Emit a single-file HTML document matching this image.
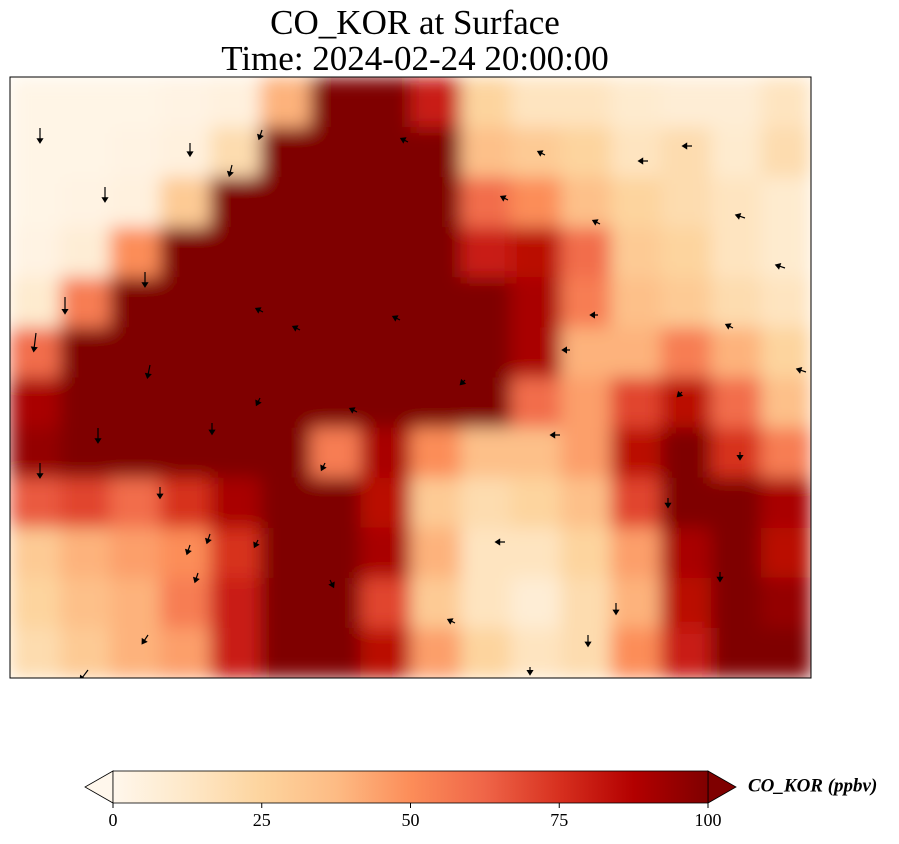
<!DOCTYPE html>
<html><head><meta charset="utf-8"><style>
body{margin:0;background:#fff;width:899px;height:839px;overflow:hidden;font-family:"Liberation Serif",serif}
</style></head><body>
<svg id="chart" width="899" height="839">
<defs>
<linearGradient id="cmap" x1="0" x2="1" y1="0" y2="0">
<stop offset="0" stop-color="#fff7ec"/><stop offset="0.125" stop-color="#fee8c8"/>
<stop offset="0.25" stop-color="#fdd49e"/><stop offset="0.375" stop-color="#fdbb84"/>
<stop offset="0.5" stop-color="#fc8d59"/><stop offset="0.625" stop-color="#ef6548"/>
<stop offset="0.75" stop-color="#d7301f"/><stop offset="0.875" stop-color="#b30000"/>
<stop offset="1" stop-color="#7f0000"/></linearGradient>
<clipPath id="mapclip"><rect x="10" y="77" width="801" height="601"/></clipPath>
<filter id="soft" x="-5%" y="-5%" width="110%" height="110%"><feGaussianBlur stdDeviation="9" edgeMode="duplicate"/></filter>
</defs>
<text x="415" y="34" font-size="35" text-anchor="middle">CO_KOR at Surface</text>
<text x="415" y="70" font-size="35" text-anchor="middle">Time: 2024-02-24 20:00:00</text>
<g clip-path="url(#mapclip)"><g id="cells" filter="url(#soft)"></g></g>
<g id="arrows" clip-path="url(#mapclip)"></g>
<rect x="10" y="77" width="801" height="601" fill="none" stroke="#000" stroke-width="1"/>
<g>
<polygon points="113,771 85,787 113,803" fill="#fff7ec" stroke="#000" stroke-width="0.8"/>
<polygon points="708,771 736,787 708,803" fill="#7f0000" stroke="#000" stroke-width="0.8"/>
<rect x="113" y="771" width="595" height="32" fill="url(#cmap)" stroke="#000" stroke-width="0.8"/>
<g id="cbticks"></g>
<text x="748" y="787" font-size="19" font-style="italic" font-weight="bold" dominant-baseline="middle">CO_KOR (ppbv)</text>
</g>
</svg>
<script>
const rowsY = [0,1,2,3,4,5,6,7,8,9,10,11];
const colsX = [0,1,2,3,4,5,6,7,8,9,10,11,12,13,14,15];
const gridValues = [
[2,2,2,3,5,40,100,100,80,25,15,15,10,8,8,15],
[2,2,3,5,20,100,100,100,100,35,30,25,15,20,10,20],
[2,3,5,30,100,100,100,100,100,60,50,35,25,20,15,10],
[3,8,50,100,100,100,100,100,100,80,85,60,30,25,15,10],
[10,55,100,100,100,100,100,100,100,100,90,55,35,30,20,15],
[60,100,100,100,100,100,100,100,100,100,90,40,40,55,40,25],
[90,100,100,100,100,100,100,100,100,100,60,45,70,85,60,35],
[95,100,100,100,100,100,55,90,50,35,35,45,85,100,75,55],
[65,70,60,75,90,100,100,85,30,20,25,35,70,100,100,90],
[30,40,45,50,75,100,100,90,40,15,15,25,45,90,100,85],
[25,35,40,55,80,100,100,70,30,15,8,20,40,85,100,95],
[20,30,40,45,80,100,100,85,45,25,15,20,50,80,100,100]];
const tickValues = [0,25,50,75,100];
const windX = [40,105,190,232,262,145,65,36,150,212,260,98,40,160,210,258,190,198,148,88,408,545,600,648,692,745,785,733,806,598,570,682,740,668,720,616,588,530,455,505,560,508,465,357,325,400,263,300,330];
const windY = [128,187,143,165,130,272,297,333,365,423,398,428,463,487,534,540,545,573,635,670,142,155,224,161,146,218,268,328,372,315,350,392,452,498,572,603,635,667,623,542,435,200,380,412,463,320,312,330,580];
const windU = [0,0,0,-1,-1,0,0,-1,-1,0,-1,0,0,0,-1,-1,-1,-1,-2,-3,-2,-2,-2,-3,-3,-3,-3,-2,-3,-2,-2,-1,0,0,0,0,0,0,-2,-3,-3,-2,-1,-2,-1,-2,-2,-2,1];
const windV = [6,6,5,4,3,6,7,8,5,4,2,6,6,4,3,2,3,3,3,4,-1,-1,-1,0,0,-1,-1,-1,-1,0,0,1,2,3,3,4,4,2,-1,0,0,-1,1,-1,2,-1,-1,-1,2];
const x0=10,y0=77,cw=801/16,ch=601/12;
function xScale(c){return x0+c*cw;}
function yScale(r){return y0+r*ch;}
const stops=[[0,[255,247,236]],[.125,[254,232,200]],[.25,[253,212,158]],[.375,[253,187,132]],[.5,[252,141,89]],[.625,[239,101,72]],[.75,[215,48,31]],[.875,[179,0,0]],[1,[127,0,0]]];
function color(v){let t=Math.max(0,Math.min(1,v/100));for(let i=1;i<stops.length;i++){if(t<=stops[i][0]){const a=stops[i-1],b=stops[i],f=(t-a[0])/(b[0]-a[0]);return 'rgb('+a[1].map((c,k)=>Math.round(c+(b[1][k]-c)*f)).join(',')+')';}}return 'rgb(127,0,0)';}
const NS='http://www.w3.org/2000/svg';
const g=document.getElementById('cells');
rowsY.forEach(r=>colsX.forEach(c=>{
const el=document.createElementNS(NS,'rect');
el.setAttribute('x',xScale(c));el.setAttribute('y',yScale(r));
el.setAttribute('width',cw+0.6);el.setAttribute('height',ch+0.6);
el.setAttribute('fill',color(gridValues[r][c]));


g.appendChild(el);}));
const ag=document.getElementById('arrows');
windX.forEach((x,i)=>{
const u=windU[i],v=windV[i],L=Math.hypot(u,v)||1,ux=u/L,uy=v/L;
const x2=x+u*1.8,y2=windY[i]+v*1.8;
const el=document.createElementNS(NS,'path');
el.setAttribute('d',`M${x},${windY[i]}L${x2},${y2}M${x2+ux*4},${y2+uy*4}L${x2-uy*2.5},${y2+ux*2.5}L${x2+uy*2.5},${y2-ux*2.5}Z`);
el.setAttribute('stroke','#000');el.setAttribute('stroke-width','1.2');el.setAttribute('fill','#000');


ag.appendChild(el);});
const tg=document.getElementById('cbticks');
tickValues.forEach(t=>{const x=113+t/100*595;
const l=document.createElementNS(NS,'line');
l.setAttribute('x1',x);l.setAttribute('x2',x);l.setAttribute('y1',803);l.setAttribute('y2',808);l.setAttribute('stroke','#000');


tg.appendChild(l);
const tx=document.createElementNS(NS,'text');
tx.setAttribute('x',x);tx.setAttribute('y',826);tx.setAttribute('font-size','18');tx.setAttribute('text-anchor','middle');
tx.textContent=t;


tg.appendChild(tx);});
</script>
</body></html>
